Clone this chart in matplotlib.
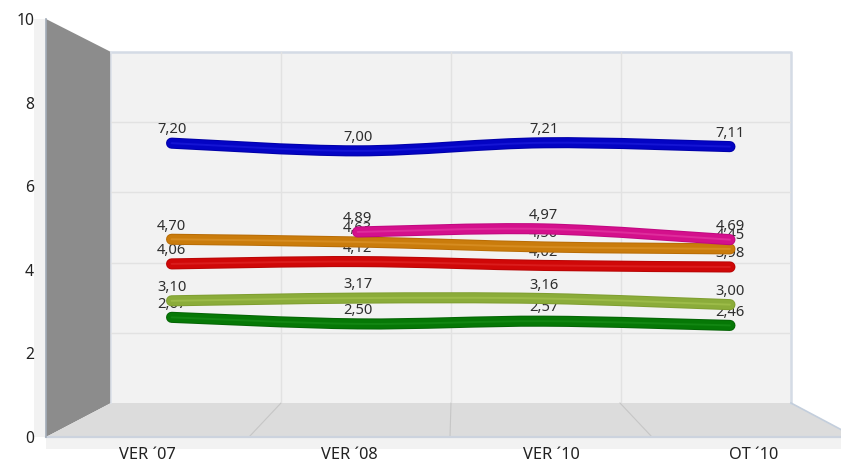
import numpy as np
import matplotlib
matplotlib.use('Agg')
import matplotlib.pyplot as plt
from matplotlib.patches import PathPatch, Polygon
from matplotlib.path import Path

plt.rcParams['font.family'] = ['Noto Sans', 'DejaVu Sans']

W, H = 841, 466

categorias = ["VER \u00b407", "VER \u00b408", "VER \u00b410", "OT \u00b410"]
y_ticks = [0, 2, 4, 6, 8, 10]

verde = [2.67, 2.50, 2.57, 2.46]
lima = [3.10, 3.17, 3.16, 3.00]
rojo = [4.06, 4.12, 4.02, 3.98]
naranja = [4.70, 4.63, 4.50, 4.45]
magenta = [np.nan, 4.89, 4.97, 4.69]
azul = [7.20, 7.00, 7.21, 7.11]

# (valores, oscuro, principal, claro) en orden de dibujo
series = [
    (verde, '#056405', '#067806', '#128612'),
    (lima, '#7f9e30', '#8bac3a', '#9cbb48'),
    (rojo, '#b80606', '#d00808', '#da1c1c'),
    (naranja, '#b86c06', '#ca7c0c', '#d68c20'),
    (magenta, '#c00880', '#d4108c', '#de2c9c'),
    (azul, '#0000a8', '#0404c4', '#1414d4'),
]

fig = plt.figure(figsize=(W / 100, H / 100), dpi=100)


def plano(izq, der, arriba, abajo, zorder):
    """Ejes colocados en pixeles de la figura, misma escala 0-10 en todos"""
    ax = fig.add_axes([izq / W, 1 - abajo / H, (der - izq) / W, (abajo - arriba) / H], zorder=zorder)
    ax.set_xlim(-0.5, 3.5)
    ax.set_ylim(0, 10)
    ax.patch.set_alpha(0)
    for s in ax.spines.values():
        s.set_visible(False)
    return ax


def curva(xs, ys):
    """Camino suave que pasa por los puntos de la serie"""
    n = len(xs)
    verts = [(xs[0], ys[0])]
    codes = [Path.MOVETO]
    for i in range(n - 1):
        a = max(i - 1, 0)
        b = min(i + 2, n - 1)
        c1 = (xs[i] + (xs[i + 1] - xs[a]) / 6, ys[i] + (ys[i + 1] - ys[a]) / 6)
        c2 = (xs[i + 1] - (xs[b] - xs[i]) / 6, ys[i + 1] - (ys[b] - ys[i]) / 6)
        verts += [c1, c2, (xs[i + 1], ys[i + 1])]
        codes += [Path.CURVE4] * 3
    return Path(verts, codes)


# Fondo 3D en pixeles
fondo = fig.add_axes([0, 0, 1, 1], zorder=0)
fondo.set_xlim(0, W)
fondo.set_ylim(H, 0)
fondo.axis('off')
fondo.add_patch(Polygon([(34, 19), (46, 19), (46, 437), (841, 437), (841, 449), (46, 449), (46, 437), (34, 437)],
                        fc='#f2f2f2', ec='none'))
fondo.add_patch(Polygon([(111, 52), (791, 52), (791, 403), (111, 403)], fc='#f2f2f2', ec='none'))
fondo.add_patch(Polygon([(46, 19), (111, 52), (111, 403), (46, 437)], fc='#8c8c8c', ec='none'))
fondo.add_patch(Polygon([(46, 437), (111, 403), (791, 403), (855, 437)], fc='#dcdcdc', ec='none'))

# Pared trasera con su rejilla
atras = plano(111, 791, 52, 403, 1)
atras.set_xticks([0.5, 1.5, 2.5])
atras.set_yticks(y_ticks[1:-1])
atras.tick_params(length=0, labelbottom=False, labelleft=False)
atras.grid(True, color='#e2e2e2', lw=1)

# Lineas del suelo y bordes
for xa, xf in zip([281, 451, 620], [249, 450, 652]):
    fondo.plot([xa, xf], [403, 437], color='#c6c6c6', lw=0.8)
fondo.plot([111, 791, 791], [52, 52, 403], color='#d4dbe5', lw=1.8)
fondo.plot([791, 855], [403, 437], color='#c3cedc', lw=1.2)
fondo.plot([46, 841], [437, 437], color='#ccd3de', lw=1.6)
fondo.plot([46, 46], [19, 437], color='#a2acb8', lw=1.2)
fondo.plot([111, 111], [52, 403], color='#dde2ea', lw=1.2)

# Plano delantero: solo lleva los textos de los ejes
frente = plano(46, 855, 19, 437, 2)
frente.set_xticks(range(len(categorias)))
frente.set_xticklabels(categorias, fontsize=11.8, color='#222222')
frente.set_yticks(y_ticks)
frente.set_yticklabels([str(v) for v in y_ticks], fontsize=11.3, color='#222222')
frente.tick_params(axis='x', length=0, pad=7.5)
frente.tick_params(axis='y', length=0, pad=8.5)

# Plano medio: las series
medio = plano(78.5, 823, 35.5, 420, 3)
medio.axis('off')
for valores, oscuro, principal, claro in series:
    xs = [i for i, v in enumerate(valores) if not np.isnan(v)]
    ys = [valores[i] for i in xs]
    for x, y in zip(xs, ys):
        medio.annotate(f'{y:.2f}'.replace('.', ','), (x, y), xytext=(0, 9.5), textcoords='offset points',
                       ha='center', va='center', fontsize=10.6, color='#2e2e2e', zorder=2)
    for color, ancho in [(oscuro, 8.0), (principal, 6.6), (claro, 1.4)]:
        medio.add_patch(PathPatch(curva(xs, ys), fc='none', ec=color, lw=ancho, capstyle='round', zorder=3))

fig.savefig('out.png', dpi=100, facecolor='white')
